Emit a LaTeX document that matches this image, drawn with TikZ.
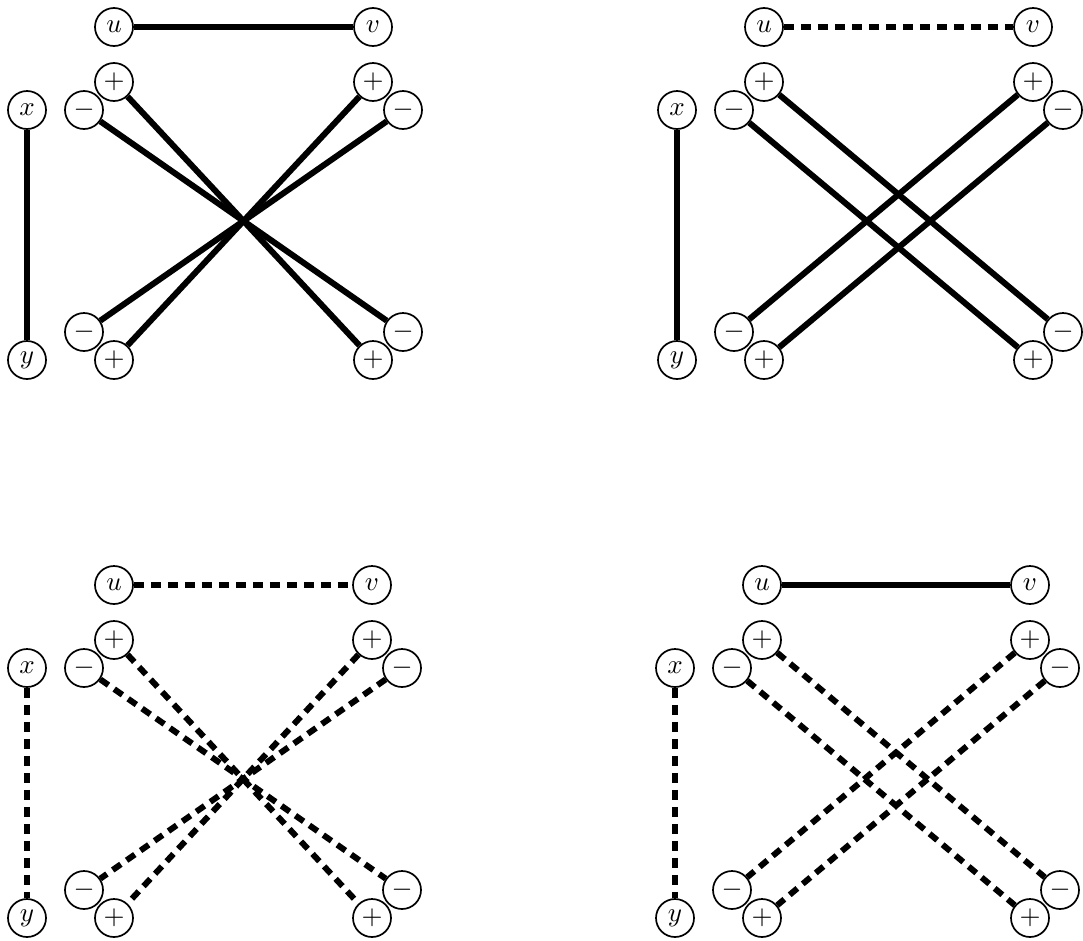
\documentclass[tikz,border=0pt]{standalone}
\usepackage{graphicx}
\newcommand\lbl[1]{\scalebox{2.7}{$#1$}}
\tikzset{
  vert/.style={circle, draw, fill=white, line width=1.7pt, minimum size=38pt, inner sep=0pt},
  solidedge/.style={line width=6pt},
  dashedge/.style={line width=6pt, dash pattern=on 10pt off 7pt},
}
% #1 prefix, #2 xshift, #3 yshift, #4 right column x, #5 uv style, #6 xy style,
% #7 cross style, #8 partner of TL+ (p/m), #9 partner of TL- (p/m)
\newcommand\drawpanel[9]{%
\begin{scope}[shift={(#2,#3)}]
  \node[vert] (#1u) at (114,0) {\lbl{u}};
  \node[vert] (#1v) at (#4,0) {\lbl{v}};
  \node[vert] (#1x) at (27,83) {\lbl{x}};
  \node[vert] (#1y) at (27,333) {\lbl{y}};
  \node[vert] (#1TLm) at (84,83) {\lbl{-}};
  \node[vert] (#1TLp) at (114,55) {\lbl{+}};
  \node[vert] (#1TRp) at (#4,55) {\lbl{+}};
  \node[vert] (#1TRm) at ({#4+30},83) {\lbl{-}};
  \node[vert] (#1BLm) at (84,305) {\lbl{-}};
  \node[vert] (#1BLp) at (114,333) {\lbl{+}};
  \node[vert] (#1BRm) at ({#4+30},305) {\lbl{-}};
  \node[vert] (#1BRp) at (#4,333) {\lbl{+}};
  \draw[#5] (#1u) -- (#1v);
  \draw[#6] (#1x) -- (#1y);
  \draw[#7] (#1TLp) -- (#1BR#8);
  \draw[#7] (#1TLm) -- (#1BR#9);
  \draw[#7] (#1TRp) -- (#1BL#8);
  \draw[#7] (#1TRm) -- (#1BL#9);
\end{scope}}

\begin{document}
\begin{tikzpicture}[x=1pt,y=-1pt]
\useasboundingbox (0,0) rectangle (1083,940);
\drawpanel{a}{0}{27}{373}{solidedge}{solidedge}{solidedge}{p}{m}
\drawpanel{b}{650}{27}{383}{dashedge}{solidedge}{solidedge}{m}{p}
\drawpanel{c}{0}{585}{372}{dashedge}{dashedge}{dashedge}{p}{m}
\drawpanel{d}{648}{585}{382}{solidedge}{dashedge}{dashedge}{m}{p}
\end{tikzpicture}
\end{document}
